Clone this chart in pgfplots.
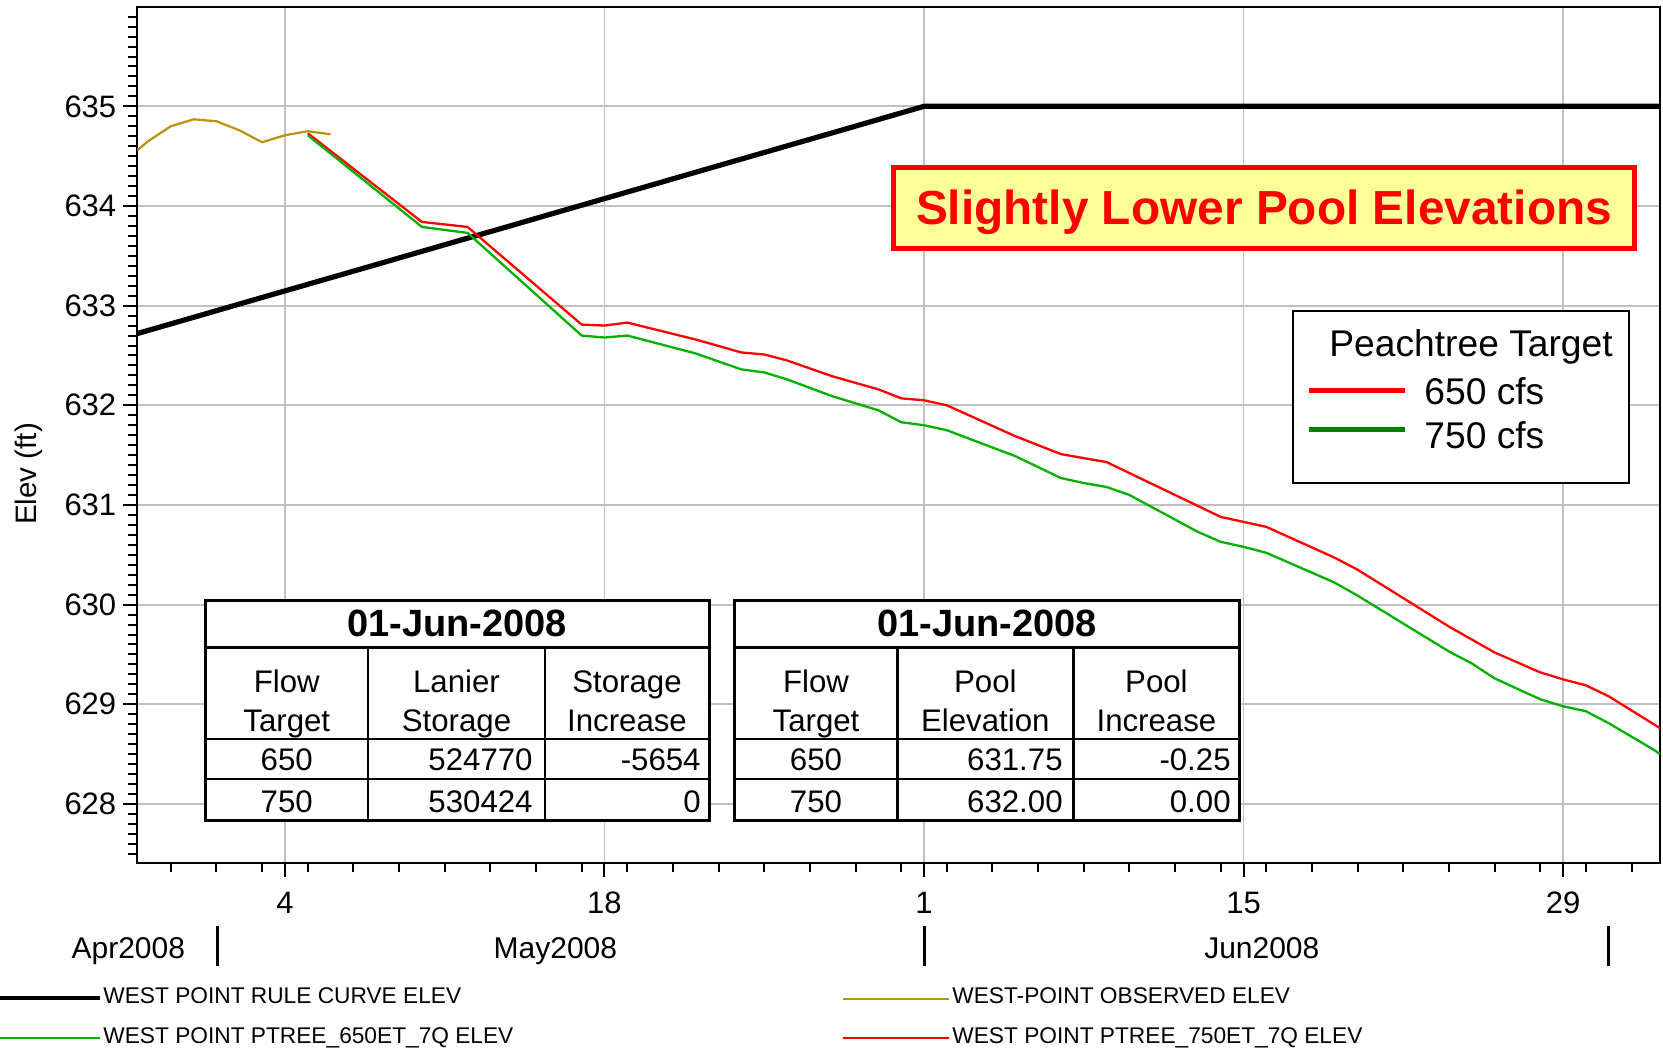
\documentclass[border=0pt]{standalone}
\usepackage{pgfplots}
\pgfplotsset{compat=1.18}
\usepackage{fontspec}
\setmainfont{Liberation Sans}
\definecolor{gridgray}{RGB}{192,192,192}
\definecolor{obsgold}{RGB}{184,146,14}
\definecolor{plotgreen}{RGB}{0,176,0}
\definecolor{leggreen}{RGB}{0,128,0}
\definecolor{boxyellow}{RGB}{255,255,153}
\begin{document}
\begin{tikzpicture}
\useasboundingbox (0,0) rectangle (831.5pt,-524pt);
\begin{axis}[
  at={(68.65pt,-431.35pt)}, anchor=south west,
  scale only axis, width=761.35pt, height=428pt,
  xmin=-2.47, xmax=64.25, ymin=627.41, ymax=636.0,
  xtick={4,18,32,46,60}, xticklabels={4,18,1,15,29},
  minor xtick={-1,1,3,5,7,9,11,13,15,17,19,21,23,25,27,29,31,33,35,37,39,41,43,45,47,49,51,53,55,57,59,61,63},
  ytick={628,629,630,631,632,633,634,635},
  yticklabels={628,629,630,631,632,633,634,635},
  minor ytick={627.5,627.6,627.7,627.8,627.9,628.1,628.2,628.3,628.4,628.5,628.6,628.7,628.8,628.9,629.1,629.2,629.3,629.4,629.5,629.6,629.7,629.8,629.9,630.1,630.2,630.3,630.4,630.5,630.6,630.7,630.8,630.9,631.1,631.2,631.3,631.4,631.5,631.6,631.7,631.8,631.9,632.1,632.2,632.3,632.4,632.5,632.6,632.7,632.8,632.9,633.1,633.2,633.3,633.4,633.5,633.6,633.7,633.8,633.9,634.1,634.2,634.3,634.4,634.5,634.6,634.7,634.8,634.9,635.1,635.2,635.3,635.4,635.5,635.6,635.7,635.8,635.9},
  tick pos=left, tick align=outside,
  major tick length=7pt, minor tick length=4.5pt,
  every tick/.style={black, line width=1pt},
  grid=major, major grid style={gridgray, line width=0.9pt},
  axis line style={black, line width=1.1pt},
  xticklabel style={font=\fontsize{15.5}{18}\selectfont, yshift=-4pt},
  yticklabel style={font=\fontsize{15.5}{18}\selectfont},
  /pgf/number format/assume math mode=true,
  every axis plot/.append style={no marks},
]
\addplot[black, line width=2.6pt] coordinates {
(-2.47,632.72) (0,632.883) (2,633.016) (4,633.148) (6,633.28) (8,633.412)
(10,633.545) (12,633.677) (14,633.809) (16,633.942) (18,634.074) (20,634.206)
(22,634.339) (24,634.471) (26,634.603) (28,634.735) (30,634.868) (32,635.0) (64.25,635.0)};
\addplot[obsgold, line width=1.1pt] coordinates {
(-2.47,634.56) (-2,634.65) (-1,634.80) (0,634.87) (1,634.85) (2,634.76)
(3,634.64) (4,634.71) (5,634.75) (6,634.72)};
\addplot[red, line width=1.15pt] coordinates {
(5,634.73) (10,633.84) (12,633.79) (17,632.81) (18,632.80) (19,632.83)
(22,632.66) (24,632.53) (25,632.51) (26,632.45) (28,632.29) (30,632.16)
(31,632.07) (32,632.05) (33,632.00) (36,631.69) (38,631.51) (39,631.47)
(40,631.43) (41,631.32) (45,630.88) (46,630.83) (47,630.78) (50,630.47)
(51,630.35) (55,629.78) (56,629.65) (57,629.52) (59,629.32) (60,629.25)
(61,629.19) (62,629.08) (63.2,628.91) (64.25,628.76)};
\addplot[plotgreen, line width=1.15pt] coordinates {
(5,634.71) (10,633.79) (12,633.73) (17,632.70) (18,632.68) (19,632.70)
(22,632.52) (24,632.36) (25,632.33) (26,632.26) (28,632.09) (30,631.95)
(31,631.83) (32,631.80) (33,631.75) (36,631.49) (38,631.27) (39,631.22)
(40,631.18) (41,631.10) (44,630.73) (45,630.63) (46,630.58) (47,630.52)
(50,630.22) (51,630.09) (55,629.53) (56,629.41) (57,629.26) (59,629.05)
(60,628.98) (61,628.93) (62,628.81) (64,628.54) (64.25,628.50)};
\end{axis}
\begin{scope}[x=0.5pt,y=-0.5pt]
% y label
\node[rotate=90, anchor=base, font=\fontsize{14.8}{17}\selectfont] at (36.7,474) {Elev (ft)};
% month row
\node[anchor=base, font=\fontsize{15}{17}\selectfont] at (128.3,958) {Apr2008};
\node[anchor=base, font=\fontsize{15}{17}\selectfont] at (555.4,958) {May2008};
\node[anchor=base, font=\fontsize{15}{17}\selectfont] at (1261.8,958) {Jun2008};
\draw[line width=1.5pt] (217.7,926) -- (217.7,966) (924,926) -- (924,966) (1608.6,926) -- (1608.6,966);
% bottom legend
\draw[black, line width=2pt] (0,998.3) -- (100,998.3);
\node[anchor=base west, inner sep=0pt, font=\fontsize{11.35}{13}\selectfont] at (103,1003.3) {WEST POINT RULE CURVE ELEV};
\draw[plotgreen, line width=1pt] (0,1038.3) -- (100,1038.3);
\node[anchor=base west, inner sep=0pt, font=\fontsize{11.35}{13}\selectfont] at (103,1043.3) {WEST POINT PTREE\_650ET\_7Q ELEV};
\draw[obsgold, line width=1pt] (843,999) -- (948.6,999);
\node[anchor=base west, inner sep=0pt, font=\fontsize{11.35}{13}\selectfont] at (952,1003.3) {WEST-POINT OBSERVED ELEV};
\draw[red, line width=1pt] (843,1038.3) -- (948.6,1038.3);
\node[anchor=base west, inner sep=0pt, font=\fontsize{11.35}{13}\selectfont] at (952,1043.3) {WEST POINT PTREE\_750ET\_7Q ELEV};
% annotation box
\filldraw[fill=boxyellow, draw=red, line width=2.5pt] (893.5,167.5) rectangle (1634.5,248.5);
\node[anchor=base, text=red, font=\bfseries\fontsize{23.9}{27}\selectfont] at (1264,225) {Slightly Lower Pool Elevations};
% legend box
\filldraw[fill=white, draw=black, line width=1pt] (1292.7,311) rectangle (1629,483.3);
\node[anchor=base west, inner sep=0pt, font=\fontsize{18.6}{21}\selectfont] at (1329,356.7) {Peachtree Target};
\draw[red, line width=2.5pt] (1309,390.7) -- (1405,390.7);
\node[anchor=base west, inner sep=0pt, font=\fontsize{18.6}{21}\selectfont] at (1424,404) {650 cfs};
\draw[leggreen, line width=2.5pt] (1309,429) -- (1405,429);
\node[anchor=base west, inner sep=0pt, font=\fontsize{18.6}{21}\selectfont] at (1424,448.3) {750 cfs};
% left table
\fill[white] (205.5,600) rectangle (709,820);
\draw[line width=1.5pt] (205.5,600) rectangle (709,820);
\draw[line width=1.5pt] (205.5,647) -- (709,647);
\draw[line width=1.3pt] (205.5,739) -- (709,739) (205.5,779) -- (709,779) (368,647) -- (368,820) (545,647) -- (545,820);
\node[anchor=base, inner sep=0pt, font=\bfseries\fontsize{19}{21}\selectfont] at (457.25,636.5) {01-Jun-2008};
\begin{scope}[every node/.style={inner sep=0pt, font=\fontsize{15.6}{17}\selectfont}]
\node[anchor=base] at (286.75,692) {Flow};
\node[anchor=base] at (286.75,731) {Target};
\node[anchor=base] at (456.5,692) {Lanier};
\node[anchor=base] at (456.5,731) {Storage};
\node[anchor=base] at (627,692) {Storage};
\node[anchor=base] at (627,731) {Increase};
\node[anchor=base] at (286.75,770) {650};
\node[anchor=base] at (286.75,812) {750};
\node[anchor=base east] at (533,770) {524770};
\node[anchor=base east] at (533,812) {530424};
\node[anchor=base east] at (701,770) {-5654};
\node[anchor=base east] at (701,812) {0};
\end{scope}
% right table
\fill[white] (734.5,600) rectangle (1239.5,820);
\draw[line width=1.5pt] (734.5,600) rectangle (1239.5,820);
\draw[line width=1.5pt] (734.5,647) -- (1239.5,647);
\draw[line width=1.3pt] (734.5,739) -- (1239.5,739) (734.5,779) -- (1239.5,779) (897.4,647) -- (897.4,820) (1073.2,647) -- (1073.2,820);
\node[anchor=base, inner sep=0pt, font=\bfseries\fontsize{19}{21}\selectfont] at (987,636.5) {01-Jun-2008};
\begin{scope}[every node/.style={inner sep=0pt, font=\fontsize{15.6}{17}\selectfont}]
\node[anchor=base] at (816,692) {Flow};
\node[anchor=base] at (816,731) {Target};
\node[anchor=base] at (985.3,692) {Pool};
\node[anchor=base] at (985.3,731) {Elevation};
\node[anchor=base] at (1156.4,692) {Pool};
\node[anchor=base] at (1156.4,731) {Increase};
\node[anchor=base] at (816,770) {650};
\node[anchor=base] at (816,812) {750};
\node[anchor=base east] at (1063,770) {631.75};
\node[anchor=base east] at (1063,812) {632.00};
\node[anchor=base east] at (1231,770) {-0.25};
\node[anchor=base east] at (1231,812) {0.00};
\end{scope}
\end{scope}
\end{tikzpicture}
\end{document}
